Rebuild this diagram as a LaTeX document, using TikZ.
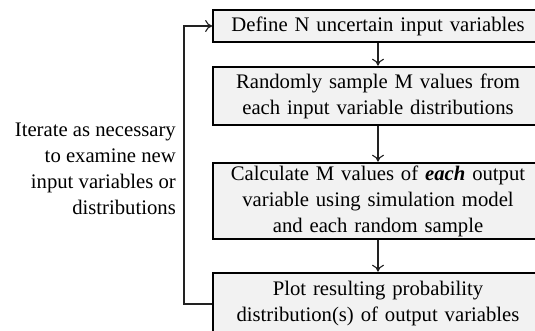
\documentclass[tikz,border=0pt]{standalone}
\usepackage{fontspec}
\setmainfont{Liberation Serif}
\usetikzlibrary{arrows.meta}
\definecolor{boxfill}{HTML}{F2F2F2}
\definecolor{linec}{HTML}{222222}
\begin{document}
\begin{tikzpicture}[x=1pt,y=-1pt,
  box/.style={draw=black,fill=boxfill,line width=2.6pt,minimum width=330pt,text width=325pt,align=center,inner sep=0pt,
    font=\fontsize{20.7pt}{26pt}\selectfont},
  thinbox/.style={box,line width=1.8pt},
  conn/.style={draw=linec,line width=1.1pt,-{To[length=7pt,width=12pt]}}]
\useasboundingbox (0,0) rectangle (535,331);
\clip (0,0) rectangle (535,331);
\node[thinbox,minimum height=32pt] (b1) at (378,26) {Define N uncertain input variables};
\node[box,minimum height=58pt] (b2) at (378,96) {Randomly sample M values from\\each input variable distributions};
\node[box,minimum height=76pt] (b3) at (378,201) {Calculate M values of \textbf{\textit{each}} output\\variable using simulation model\\and each random sample};
\node[box,minimum height=62pt] (b4) at (378,304) {Plot resulting probability\\distribution(s) of output variables};
\node[anchor=east,align=right,inner sep=0pt,font=\fontsize{20.7pt}{26pt}\selectfont] (note) at (176,169)
  {Iterate as necessary\\to examine new\\input variables or\\distributions};
\coordinate (lb) at (184,304);
\coordinate (lt) at (184,26);
\draw[conn] (b1) -- (b2);
\draw[conn] (b2) -- (b3);
\draw[conn] (b3) -- (b4);
\draw[conn] (b4.west) -- (lb) -- (lt) -- (b1.west);
\end{tikzpicture}
\end{document}
